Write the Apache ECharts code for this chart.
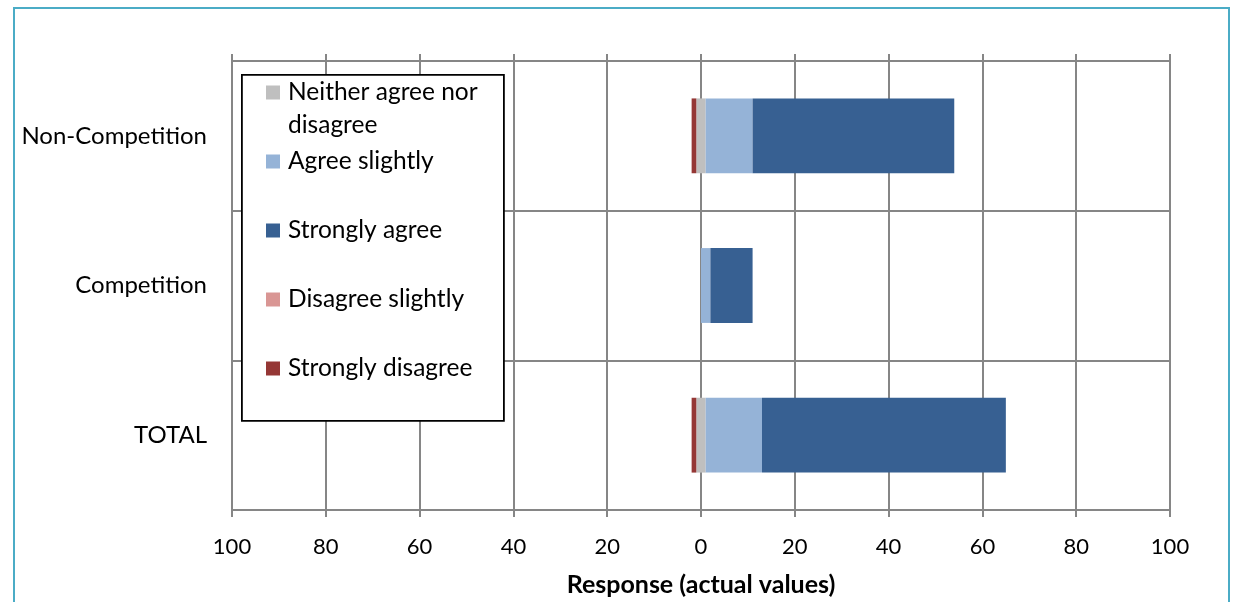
<!DOCTYPE html>
<html>
<head>
<meta charset="utf-8">
<script src="https://cdn.jsdelivr.net/npm/echarts@6/dist/echarts.min.js"></script>
<style>
  html, body { margin: 0; padding: 0; background: #fff; }
  #frame { position: absolute; left: 13px; top: 7px; width: 1217px; height: 640px; border: 2px solid #4BACC6; box-sizing: border-box; }
  #chart { position: absolute; left: 0; top: 0; width: 1236px; height: 602px; }
</style>
</head>
<body>
<div id="frame"></div>
<div id="chart"></div>
<script>
// Categories listed bottom to top
const categories = ['TOTAL', 'Competition', 'Non-Competition'];
const stronglyDisagree = [1, 0, 1];
const disagreeSlightly = [0, 0, 0];
const neitherAgree = [2, 0, 2];
const agreeSlightly = [12, 2, 10];
const stronglyAgree = [52, 9, 43];
const xTicks = { min: -100, max: 100, interval: 20 };
const legendOrder = ['Neither agree nor disagree', 'Agree slightly', 'Strongly agree', 'Disagree slightly', 'Strongly disagree'];

const FONT = 'Lato';
const GRID_COLOR = '#868686';
const nz = v => (v === 0 ? '-' : v);

const chart = echarts.init(document.getElementById('chart'), null, { renderer: 'canvas' });

const barBase = {
  type: 'bar',
  barWidth: '50%',
  emphasis: { disabled: true },
  animation: false
};

const series = [
  Object.assign({}, barBase, { name: 'Neither agree nor disagree', stack: 'r', data: neitherAgree.map(v => nz(-v / 2)), itemStyle: { color: '#BFBFBF' } }),
  Object.assign({}, barBase, { name: 'Disagree slightly', stack: 'r', data: disagreeSlightly.map(v => nz(-v)), itemStyle: { color: '#D99694' } }),
  Object.assign({}, barBase, { name: 'Strongly disagree', stack: 'r', data: stronglyDisagree.map(v => nz(-v)), itemStyle: { color: '#953735' } }),
  Object.assign({}, barBase, { name: 'Neither agree nor disagree', stack: 'r', data: neitherAgree.map(v => nz(v / 2)), itemStyle: { color: '#BFBFBF' } }),
  Object.assign({}, barBase, { name: 'Agree slightly', stack: 'r', data: agreeSlightly.map(nz), itemStyle: { color: '#95B3D7' } }),
  Object.assign({}, barBase, { name: 'Strongly agree', stack: 'r', data: stronglyAgree.map(nz), itemStyle: { color: '#376092' } })
];

const LH = 33;
const legendData = legendOrder.map((n, i) => ({
  name: n,
  textStyle: { lineHeight: LH, padding: i === 0 ? [0, 0, 0, 3] : [LH, 0, LH, 3] }
}));

chart.setOption({
  animation: false,
  textStyle: { fontFamily: FONT },
  grid: { left: 232, right: 66, top: 61, bottom: 91, containLabel: false },
  graphic: [{
    type: 'rect', left: 241, top: 74, silent: true, z: 50,
    shape: { width: 262, height: 346 },
    style: { fill: '#fff', stroke: '#000', lineWidth: 1.8 }
  }],
  legend: {
    orient: 'vertical',
    left: 266, top: 43,
    padding: 0,
    itemGap: -30,
    itemWidth: 14, itemHeight: 14,
    icon: 'rect',
    z: 60,
    selectedMode: false,
    textStyle: { fontFamily: FONT, fontSize: 24.5, color: '#000', lineHeight: LH },
    formatter: n => (n === 'Neither agree nor disagree' ? '\nNeither agree nor\ndisagree' : n),
    data: legendData
  },
  xAxis: [{
    type: 'value', position: 'bottom',
    min: xTicks.min, max: xTicks.max, interval: xTicks.interval,
    axisLine: { show: true, lineStyle: { color: GRID_COLOR, width: 2 } },
    axisTick: { show: true, length: 7, lineStyle: { color: GRID_COLOR, width: 2 } },
    splitLine: { show: true, lineStyle: { color: GRID_COLOR, width: 2 } },
    axisLabel: { formatter: v => String(Math.abs(v)), fontFamily: FONT, fontSize: 22, color: '#000', margin: 26 },
    name: 'Response (actual values)', nameLocation: 'middle', nameGap: 62,
    nameTextStyle: { fontFamily: FONT, fontSize: 25, fontWeight: 'bold', color: '#000' }
  }, {
    type: 'value', position: 'top',
    min: xTicks.min, max: xTicks.max, interval: xTicks.interval,
    axisLine: { show: false },
    axisTick: { show: true, length: 7, lineStyle: { color: GRID_COLOR, width: 2 } },
    splitLine: { show: false },
    axisLabel: { show: false }
  }],
  yAxis: {
    type: 'category', data: categories,
    axisLine: { show: true, lineStyle: { color: GRID_COLOR, width: 2 } },
    axisTick: { show: false },
    splitLine: { show: true, lineStyle: { color: GRID_COLOR, width: 2 } },
    axisLabel: { fontFamily: FONT, fontSize: 24, color: '#000', margin: 25 }
  },
  series: series
});
</script>
</body>
</html>
